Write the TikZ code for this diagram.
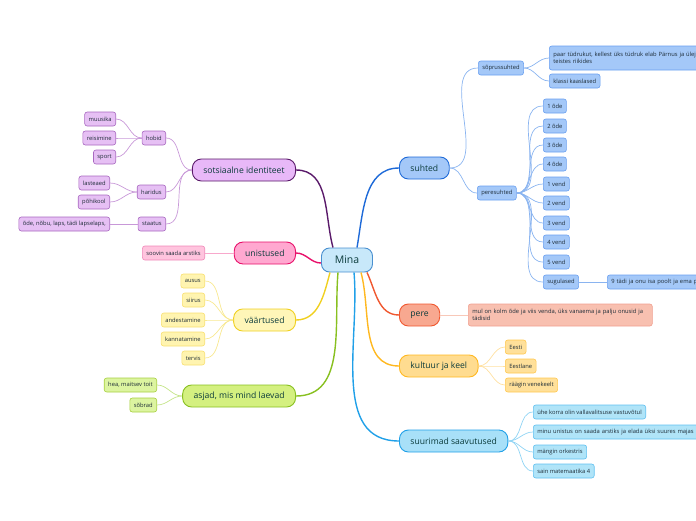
\documentclass[tikz,border=0pt]{standalone}
\usepackage{fontspec}
\setmainfont{Open Sans}
\definecolor{minaF}{HTML}{C8E8FA}\definecolor{minaD}{HTML}{4A90D0}
\definecolor{blueF}{HTML}{A4C8F8}\definecolor{blueD}{HTML}{6AA0F0}\definecolor{blueT}{HTML}{1E6AD8}\definecolor{blueC}{HTML}{8AB4F0}
\definecolor{purF}{HTML}{E6C0F4}\definecolor{purD}{HTML}{A868C0}\definecolor{purT}{HTML}{5A1A6A}\definecolor{purC}{HTML}{C898D8}\definecolor{purTF}{HTML}{E8B8F8}
\definecolor{pinF}{HTML}{FFC4DE}\definecolor{pinD}{HTML}{F088B8}\definecolor{pinT}{HTML}{E8106A}\definecolor{pinC}{HTML}{F8A8CC}\definecolor{pinTF}{HTML}{FFA8D0}
\definecolor{yelF}{HTML}{FFF4B0}\definecolor{yelD}{HTML}{F8E070}\definecolor{yelT}{HTML}{F0D020}\definecolor{yelC}{HTML}{F8E890}\definecolor{yelTF}{HTML}{FFF6B8}
\definecolor{grnF}{HTML}{DCF4A0}\definecolor{grnD}{HTML}{A8D040}\definecolor{grnT}{HTML}{88C020}\definecolor{grnC}{HTML}{C4E488}\definecolor{grnTF}{HTML}{D4F080}
\definecolor{redF}{HTML}{F8C0B0}\definecolor{redD}{HTML}{F0A090}\definecolor{redT}{HTML}{F05830}\definecolor{redC}{HTML}{F8C8B8}\definecolor{redTF}{HTML}{F8A890}
\definecolor{orgF}{HTML}{FFE09A}\definecolor{orgD}{HTML}{FFC850}\definecolor{orgT}{HTML}{FFB820}\definecolor{orgC}{HTML}{FFE0A0}\definecolor{orgTF}{HTML}{FFDC90}
\definecolor{cyaF}{HTML}{B0E4F8}\definecolor{cyaD}{HTML}{60C0F0}\definecolor{cyaT}{HTML}{20A0E8}\definecolor{cyaC}{HTML}{90D4F4}\definecolor{cyaTF}{HTML}{A8E0F8}
\definecolor{txt}{HTML}{1C2B36}\definecolor{toptxt}{HTML}{0B3B3B}
\newcommand\leaffont{\fontsize{5.8}{7}\selectfont}
\tikzset{
	leaf/.style={draw, rounded corners=2.5pt, minimum height=14pt, inner xsep=4pt, inner ysep=1pt, line width=0.6pt, text=txt, font=\leaffont},
	topic/.style={draw, rounded corners=9pt, minimum height=22pt, inner xsep=11pt, line width=0.9pt, text=toptxt, font=\fontsize{8.6}{9.6}\selectfont},
	root/.style={draw=minaD, fill=minaF, rounded corners=8pt, minimum height=24pt, minimum width=51pt, line width=0.9pt, text=toptxt, font=\fontsize{10.5}{11.5}\selectfont},
	mainlink/.style={line width=1.4pt},
	sublink/.style={line width=0.7pt},
}
\begin{document}
\begin{tikzpicture}[x=1pt,y=-1pt]
		%%%%% START %%%%%
		\useasboundingbox (0,0) rectangle (696,520);
		\clip (0,0) rectangle (696,520);
		
		\node[root] (mina) at (347,260) {Mina};
		
		%% suhted
		\node[topic, anchor=west, fill=blueF, draw=blueT] (suhted) at (399,168) {suhted};
		\node[leaf, anchor=west, fill=blueF, draw=blueD] (sopr) at (478,68) {sõprussuhted};
		\node[leaf, anchor=west, fill=blueF, draw=blueD, text width=172pt, align=left, minimum height=24pt] (paar) at (549,58) {paar tüdrukut, kellest üks tüdruk elab Pärnus ja ülej\\teistes riikides};
		\node[leaf, anchor=west, fill=blueF, draw=blueD] (klassi) at (549,81) {klassi kaaslased};
		\node[leaf, anchor=west, fill=blueF, draw=blueD] (pere suhted) at (477,193) {peresuhted};
		\node[leaf, anchor=west, fill=blueF, draw=blueD] (ode1) at (543,106) {1 õde};
		\node[leaf, anchor=west, fill=blueF, draw=blueD] (ode2) at (543,126) {2 õde};
		\node[leaf, anchor=west, fill=blueF, draw=blueD] (ode3) at (543,145) {3 õde};
		\node[leaf, anchor=west, fill=blueF, draw=blueD] (ode4) at (543,164) {4 õde};
		\node[leaf, anchor=west, fill=blueF, draw=blueD] (vend1) at (543,184) {1 vend};
		\node[leaf, anchor=west, fill=blueF, draw=blueD] (vend2) at (543,203) {2 vend};
		\node[leaf, anchor=west, fill=blueF, draw=blueD] (vend3) at (543,223) {3 vend};
		\node[leaf, anchor=west, fill=blueF, draw=blueD] (vend4) at (543,242) {4 vend};
		\node[leaf, anchor=west, fill=blueF, draw=blueD] (vend5) at (543,262) {5 vend};
		\node[leaf, anchor=west, fill=blueF, draw=blueD] (sugulased) at (543,282) {sugulased};
		\node[leaf, anchor=west, fill=blueF, draw=blueD, text width=110pt, align=left] (tadi) at (607,282) {9 tädi ja onu isa poolt ja ema p};
		
		\draw[mainlink, blueT] ([xshift=10pt]mina.north) to[out=80,in=180] (suhted.west);
		\draw[sublink, blueC] (suhted.east) to[out=0,in=180] (sopr.west);
		\draw[sublink, blueC] (suhted.east) to[out=0,in=180] (pere suhted.west);
		\draw[sublink, blueC] (sopr.east) to[out=0,in=180] (paar.west);
		\draw[sublink, blueC] (sopr.east) to[out=0,in=180] (klassi.west);
		\draw[sublink, blueC] (pere suhted.east) to[out=0,in=180] (ode1.west);
		\draw[sublink, blueC] (pere suhted.east) to[out=0,in=180] (ode2.west);
		\draw[sublink, blueC] (pere suhted.east) to[out=0,in=180] (ode3.west);
		\draw[sublink, blueC] (pere suhted.east) to[out=0,in=180] (ode4.west);
		\draw[sublink, blueC] (pere suhted.east) to[out=0,in=180] (vend1.west);
		\draw[sublink, blueC] (pere suhted.east) to[out=0,in=180] (vend2.west);
		\draw[sublink, blueC] (pere suhted.east) to[out=0,in=180] (vend3.west);
		\draw[sublink, blueC] (pere suhted.east) to[out=0,in=180] (vend4.west);
		\draw[sublink, blueC] (pere suhted.east) to[out=0,in=180] (vend5.west);
		\draw[sublink, blueC] (pere suhted.east) to[out=0,in=180] (sugulased.west);
		\draw[sublink, blueC] (sugulased.east) -- (tadi.west);
		
		%% sotsiaalne identiteet
		\node[topic, anchor=east, fill=purTF, draw=purT] (sots) at (296,170) {sotsiaalne identiteet};
		\node[leaf, anchor=east, fill=purF, draw=purD] (hobid) at (166,138) {hobid};
		\node[leaf, anchor=east, fill=purF, draw=purD] (muusika) at (116,119) {muusika};
		\node[leaf, anchor=east, fill=purF, draw=purD] (reisimine) at (116,138) {reisimine};
		\node[leaf, anchor=east, fill=purF, draw=purD] (sport) at (116,157) {sport};
		\node[leaf, anchor=east, fill=purF, draw=purD] (haridus) at (166,192) {haridus};
		\node[leaf, anchor=east, fill=purF, draw=purD] (lasteaed) at (110,183) {lasteaed};
		\node[leaf, anchor=east, fill=purF, draw=purD] (pohikool) at (110,202) {põhikool};
		\node[leaf, anchor=east, fill=purF, draw=purD] (staatus) at (166,224) {staatus};
		\node[leaf, anchor=east, fill=purF, draw=purD] (sugulus) at (110,224) {õde, nõbu, laps, tädi lapselaps,};
		
		\draw[mainlink, purT] ([xshift=-14pt]mina.north) to[out=105,in=0] (sots.east);
		\draw[sublink, purC] (sots.west) to[out=180,in=0] (hobid.east);
		\draw[sublink, purC] (sots.west) to[out=180,in=0] (haridus.east);
		\draw[sublink, purC] (sots.west) to[out=180,in=0] (staatus.east);
		\draw[sublink, purC] (hobid.west) to[out=180,in=0] (muusika.east);
		\draw[sublink, purC] (hobid.west) to[out=180,in=0] (reisimine.east);
		\draw[sublink, purC] (hobid.west) to[out=180,in=0] (sport.east);
		\draw[sublink, purC] (haridus.west) to[out=180,in=0] (lasteaed.east);
		\draw[sublink, purC] (haridus.west) to[out=180,in=0] (pohikool.east);
		\draw[sublink, purC] (staatus.west) -- (sugulus.east);
		
		%% unistused
		\node[topic, anchor=east, fill=pinTF, draw=pinT] (unistused) at (296,253) {unistused};
		\node[leaf, anchor=east, fill=pinF, draw=pinD] (arstiks) at (205,253) {soovin saada arstiks};
		
		\draw[mainlink, pinT] ([yshift=-3pt]mina.west) to[out=180,in=0] (unistused.east);
		\draw[sublink, pinC] (unistused.west) -- (arstiks.east);
		
		%% väärtused
		\node[topic, anchor=east, fill=yelTF, draw=yelT] (vaartused) at (296,320) {väärtused};
		\node[leaf, anchor=east, fill=yelF, draw=yelD] (ausus) at (205,281) {ausus};
		\node[leaf, anchor=east, fill=yelF, draw=yelD] (siirus) at (205,300) {siirus};
		\node[leaf, anchor=east, fill=yelF, draw=yelD] (andestamine) at (205,320) {andestamine};
		\node[leaf, anchor=east, fill=yelF, draw=yelD] (kannatamine) at (205,339) {kannatamine};
		\node[leaf, anchor=east, fill=yelF, draw=yelD] (tervis) at (205,358) {tervis};
		
		\draw[mainlink, yelT] ([xshift=-17pt]mina.south) to[out=-105,in=0] (vaartused.east);
		\draw[sublink, yelC] (vaartused.west) to[out=180,in=0] (ausus.east);
		\draw[sublink, yelC] (vaartused.west) to[out=180,in=0] (siirus.east);
		\draw[sublink, yelC] (vaartused.west) to[out=180,in=0] (andestamine.east);
		\draw[sublink, yelC] (vaartused.west) to[out=180,in=0] (kannatamine.east);
		\draw[sublink, yelC] (vaartused.west) to[out=180,in=0] (tervis.east);
		
		%% asjad, mis mind laevad
		\node[topic, anchor=east, fill=grnTF, draw=grnT] (asjad) at (296,396) {asjad, mis mind laevad};
		\node[leaf, anchor=east, fill=grnF, draw=grnD] (toit) at (157,385) {hea, maitsev toit};
		\node[leaf, anchor=east, fill=grnF, draw=grnD] (sobrad) at (157,405) {sõbrad};
		
		\draw[mainlink, grnT] ([xshift=-9pt]mina.south) to[out=-95,in=0] (asjad.east);
		\draw[sublink, grnC] (asjad.west) to[out=180,in=0] (toit.east);
		\draw[sublink, grnC] (asjad.west) to[out=180,in=0] (sobrad.east);
		
		%% pere
		\node[topic, anchor=west, fill=redTF, draw=redT] (pere) at (399,315) {pere};
		\node[leaf, anchor=west, fill=redF, draw=redD, text width=176pt, align=left, minimum height=22pt] (kolm) at (468,315) {mul on kolm õde ja viis venda, üks vanaema ja palju onusid ja\\tädisid};
		
		\draw[mainlink, redT] ([xshift=20pt]mina.south) to[out=-65,in=180] (pere.west);
		\draw[sublink, redC] (pere.east) -- (kolm.west);
		
		%% kultuur ja keel
		\node[topic, anchor=west, fill=orgTF, draw=orgT] (kultuur) at (399,366) {kultuur ja keel};
		\node[leaf, anchor=west, fill=orgF, draw=orgD] (eesti) at (505,347) {Eesti};
		\node[leaf, anchor=west, fill=orgF, draw=orgD] (eestlane) at (505,366) {Eestlane};
		\node[leaf, anchor=west, fill=orgF, draw=orgD] (vene) at (505,385) {räägin venekeelt};
		
		\draw[mainlink, orgT] ([xshift=14pt]mina.south) to[out=-75,in=180] (kultuur.west);
		\draw[sublink, orgC] (kultuur.east) to[out=0,in=180] (eesti.west);
		\draw[sublink, orgC] (kultuur.east) to[out=0,in=180] (eestlane.west);
		\draw[sublink, orgC] (kultuur.east) to[out=0,in=180] (vene.west);
		
		%% suurimad saavutused
		\node[topic, anchor=west, fill=cyaTF, draw=cyaT] (suurimad) at (399,441) {suurimad saavutused};
		\node[leaf, anchor=west, fill=cyaF, draw=cyaD] (vastuvott) at (533,412) {ühe korra olin vallavalitsuse vastuvõtul};
		\node[leaf, anchor=west, fill=cyaF, draw=cyaD, text width=172pt, align=left] (maja) at (533,432) {minu unistus on saada arstiks ja elada üksi suures majas};
		\node[leaf, anchor=west, fill=cyaF, draw=cyaD] (orkester) at (533,452) {mängin orkestris};
		\node[leaf, anchor=west, fill=cyaF, draw=cyaD] (matem) at (533,471) {sain matemaatika 4};
		
		\draw[mainlink, cyaT] ([xshift=7pt]mina.south) to[out=-85,in=180] (suurimad.west);
		\draw[sublink, cyaC] (suurimad.east) to[out=0,in=180] (vastuvott.west);
		\draw[sublink, cyaC] (suurimad.east) to[out=0,in=180] (maja.west);
		\draw[sublink, cyaC] (suurimad.east) to[out=0,in=180] (orkester.west);
		\draw[sublink, cyaC] (suurimad.east) to[out=0,in=180] (matem.west);
		
		%%%%% END %%%%%
	\end{tikzpicture}
\end{document}
